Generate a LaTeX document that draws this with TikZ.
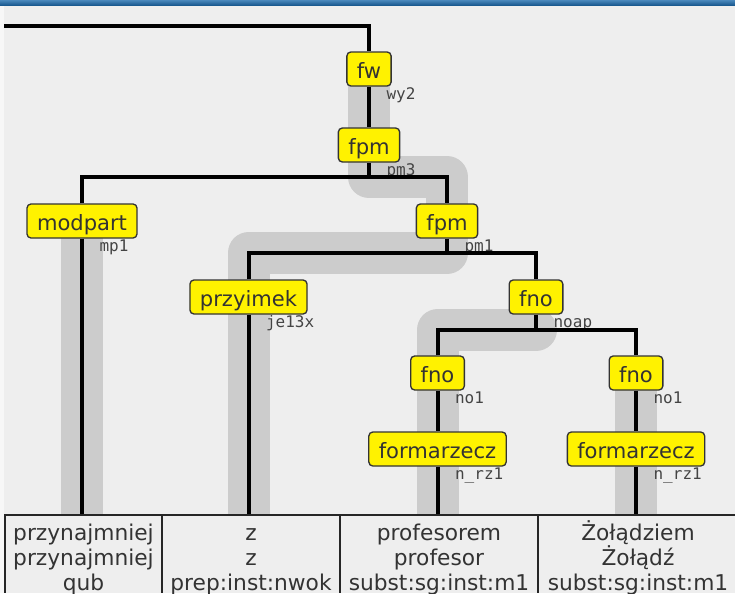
\documentclass[tikz,border=0pt]{standalone}
\usepackage{fontspec}
\usetikzlibrary{backgrounds}
\newfontfamily\dejavu{DejaVu Sans}
\newfontfamily\dejavumono{DejaVu Sans Mono}
\definecolor{bgcol}{HTML}{EEEEEE}
\definecolor{headcol}{HTML}{CCCCCC}
\definecolor{inkcol}{HTML}{333333}
\definecolor{tagcol}{HTML}{444444}
\definecolor{bartop}{HTML}{4A88BC}
\definecolor{barbot}{HTML}{1A5A90}
\newcommand{\catfont}{\dejavu\fontsize{15.8pt}{19pt}\selectfont}
\newcommand{\cellfont}{\dejavu\fontsize{16.3pt}{18.75pt}\selectfont}
\newcommand{\tagfont}{\dejavumono\fontsize{12pt}{14pt}\selectfont}
\newcommand{\wline}[1]{\strut\smash{#1}}
\tikzset{
  cat/.style={draw=inkcol, fill=yellow, rounded corners=3pt, line width=1pt,
    font=\catfont, text=inkcol, inner xsep=7.5pt, inner ysep=4pt,
    text height=15.5pt, text depth=2pt},
  tag/.style={anchor=west, inner sep=0pt, font=\tagfont, text=tagcol,
    text height=9pt, text depth=3pt},
  cell/.style={anchor=north, align=center, font=\cellfont, text=inkcol,
    inner xsep=0pt, inner ysep=5.6pt},
  branch/.style={line width=3pt},
  head/.style={headcol, line width=31.5pt, line cap=round, line join=round},
  grid/.style={line width=1.5pt, black!85}
}

\begin{document}
\begin{tikzpicture}[x=0.75pt,y=-0.75pt]
    \useasboundingbox (0,0) rectangle (735,593);
    % tree
    \node[cat] (fw)       at (369,69)    {fw};
    \node[cat] (fpm)      at (369,145)   {fpm};
    \node[cat] (modpart)  at (82,221)    {modpart};
    \node[cat] (fpmB)     at (447,221)   {fpm};
    \node[cat] (przyimek) at (248.5,297) {przyimek};
    \node[cat] (fnoA)     at (536,297)   {fno};
    \node[cat] (fnoB)     at (437.5,373) {fno};
    \node[cat] (fnoC)     at (636,373)   {fno};
    \node[cat] (formB)    at (437.5,449) {formarzecz};
    \node[cat] (formC)    at (636,449)   {formarzecz};
    \node[tag] (tfw)       at ([xshift=13pt,yshift=-6.4pt]fw.south)       {wy2};
    \node[tag] (tfpm)      at ([xshift=13pt,yshift=-6.4pt]fpm.south)      {pm3};
    \node[tag] (tmodpart)  at ([xshift=13pt,yshift=-6.4pt]modpart.south)  {mp1};
    \node[tag] (tfpmB)     at ([xshift=13pt,yshift=-6.4pt]fpmB.south)     {pm1};
    \node[tag] (tprzyimek) at ([xshift=13pt,yshift=-6.4pt]przyimek.south) {je13x};
    \node[tag] (tfnoA)     at ([xshift=13pt,yshift=-6.4pt]fnoA.south)     {noap};
    \node[tag] (tfnoB)     at ([xshift=13pt,yshift=-6.4pt]fnoB.south)     {no1};
    \node[tag] (tfnoC)     at ([xshift=13pt,yshift=-6.4pt]fnoC.south)     {no1};
    \node[tag] (tformB)    at ([xshift=13pt,yshift=-6.4pt]formB.south)    {n\_rz1};
    \node[tag] (tformC)    at ([xshift=13pt,yshift=-6.4pt]formC.south)    {n\_rz1};
    \coordinate (top) at (4,26);
    \coordinate (b1)  at (0,177);
    \coordinate (b2)  at (0,253);
    \coordinate (b3)  at (0,330);
    \coordinate (tab) at (0,515);
    % words
    \node[cell] (w1) at (83.5,515) {\wline{przynajmniej}\\\wline{przynajmniej}\\\wline{qub}};
    \node[cell] (w2) at (251,515)  {\wline{z}\\\wline{z}\\\wline{prep:inst:nwok}};
    \node[cell] (w3) at (439,515)  {\wline{profesorem}\\\wline{profesor}\\\wline{subst:sg:inst:m1}};
    \node[cell] (w4) at (638,515)  {\wline{Żołądziem}\\\wline{Żołądź}\\\wline{subst:sg:inst:m1}};
    % branches
    \draw[branch] (top) -| (fw.north);
    \draw[branch] (fw) -- (fpm);
    \draw[branch] (fpm.south) -- (fpm |- b1);
    \draw[branch] (modpart.north) |- (fpmB.north |- b1) -- (fpmB.north);
    \draw[branch] (modpart.south) -- (modpart.south |- w1.north);
    \draw[branch] (fpmB.south) -- (fpmB |- b2);
    \draw[branch] (przyimek.north) |- (fnoA.north |- b2) -- (fnoA.north);
    \draw[branch] (przyimek.south) -- (przyimek.south |- w2.north);
    \draw[branch] (fnoA.south) -- (fnoA |- b3);
    \draw[branch] (fnoB.north) |- (fnoC.north |- b3) -- (fnoC.north);
    \draw[branch] (fnoB) -- (formB);
    \draw[branch] (fnoC) -- (formC);
    \draw[branch] (formB.south) -- (formB.south |- w3.north);
    \draw[branch] (formC.south) -- (formC.south |- w4.north);
    % table
    \draw[grid] (4,515) -- (735,515);
    \foreach \x in {5,162,340,538}
      \draw[grid] (\x,515) -- (\x,593);
    \begin{pgfonlayer}{background}
      \fill[bgcol] (0,0) rectangle (735,593);
      \fill[white!55!bgcol] (0,5) rectangle (4,593);
      \shade[top color=bartop, bottom color=barbot] (0,0) rectangle (735,5);
      % head paths
      \draw[head] (fw.south) -- (fw |- b1) -- (fpmB |- b1) -- (fpmB |- b2)
                  -- (przyimek |- b2) -- (przyimek |- tab);
      \draw[head] (modpart.south) -- (modpart |- tab);
      \draw[head] (fnoA |- b3) -- (fnoB |- b3) -- (fnoB |- tab);
      \draw[head] (fnoC.south) -- (fnoC |- tab);
      \fill[bgcol] (4,516) rectangle (735,593);
    \end{pgfonlayer}
\end{tikzpicture}
\end{document}
